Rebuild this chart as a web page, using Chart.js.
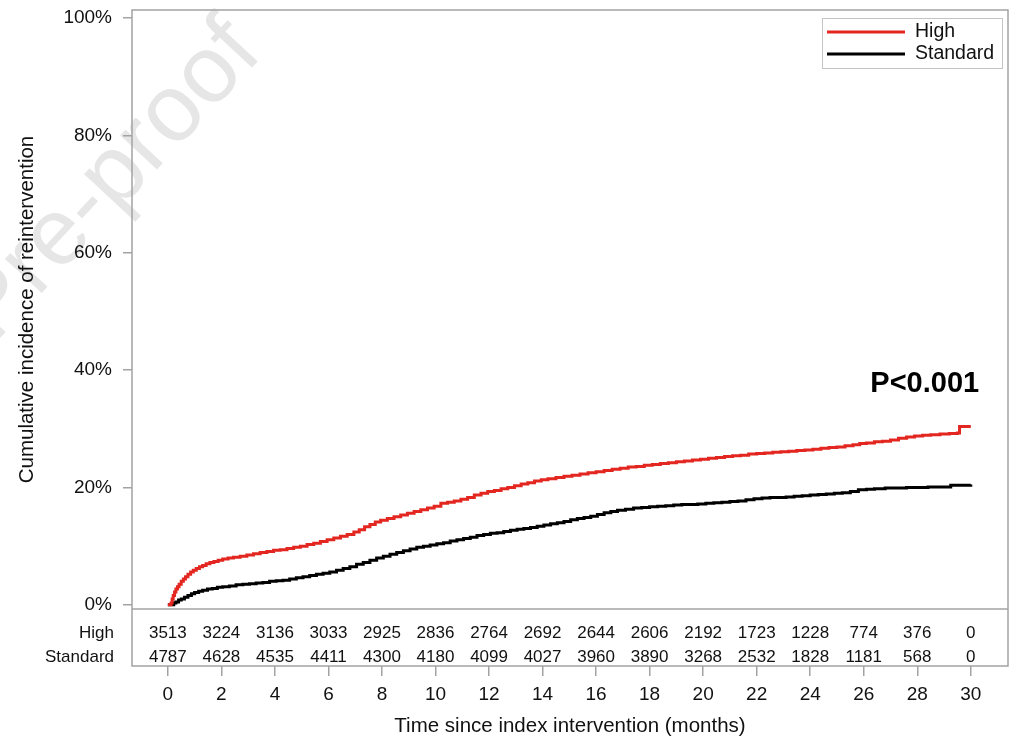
<!DOCTYPE html>
<html>
<head>
<meta charset="utf-8">
<title>Cumulative incidence of reintervention</title>
<script src="https://cdn.jsdelivr.net/npm/chart.js@4.4.1/dist/chart.umd.min.js"></script>
<style>
  html, body { margin: 0; padding: 0; background: #fff; }
  #wrap { width: 1012px; height: 743px; }
</style>
</head>
<body>
<div id="wrap"><canvas id="out" width="1012" height="743"></canvas></div>
<script>
// tick labels
const monthTicks = [0, 2, 4, 6, 8, 10, 12, 14, 16, 18, 20, 22, 24, 26, 28, 30];
const percentTicks = [0, 20, 40, 60, 80, 100];

// numbers at risk
const riskHigh = [3513, 3224, 3136, 3033, 2925, 2836, 2764, 2692, 2644, 2606, 2192, 1723, 1228, 774, 376, 0];
const riskStandard = [4787, 4628, 4535, 4411, 4300, 4180, 4099, 4027, 3960, 3890, 3268, 2532, 1828, 1181, 568, 0];

// cumulative incidence (%)
const highMonths = [0, 0.12, 0.16, 0.20, 0.25, 0.30, 0.36, 0.42, 0.50, 0.58, 0.66, 0.75, 0.85, 0.95, 1.06, 1.18,
  1.30, 1.43, 1.57, 1.72, 1.88, 2.05, 2.25, 2.45, 2.70, 2.95, 3.20, 3.45, 3.70, 3.95, 4.20, 4.45, 4.70, 4.95,
  5.20, 5.45, 5.70, 5.95, 6.20, 6.45, 6.70, 6.95, 7.15, 7.35, 7.55, 7.75, 7.95, 8.20, 8.45, 8.70, 8.95, 9.20,
  9.45, 9.70, 9.95, 10.20, 10.45, 10.70, 10.95, 11.20, 11.45, 11.70, 11.95, 12.20, 12.45, 12.70, 12.95, 13.20,
  13.45, 13.70, 13.95, 14.20, 14.50, 14.80, 15.10, 15.40, 15.70, 16.00, 16.30, 16.60, 16.90, 17.20, 17.50,
  17.80, 18.10, 18.40, 18.70, 19.00, 19.30, 19.60, 19.90, 20.20, 20.50, 20.80, 21.10, 21.40, 21.70, 22.00,
  22.30, 22.60, 22.90, 23.20, 23.50, 23.80, 24.10, 24.40, 24.70, 25.00, 25.30, 25.60, 25.85, 26.10, 26.40,
  26.70, 27.00, 27.30, 27.60, 27.90, 28.20, 28.50, 28.85, 29.20, 29.50, 29.58, 30.00];
const highIncidence = [0, 0.3, 1.0, 1.6, 2.2, 2.7, 3.1, 3.5, 4.0, 4.4, 4.8, 5.2, 5.6, 5.9, 6.2, 6.5,
  6.7, 7.0, 7.2, 7.4, 7.6, 7.8, 8.0, 8.1, 8.3, 8.5, 8.7, 8.9, 9.1, 9.3, 9.4, 9.6, 9.8, 10.0,
  10.3, 10.5, 10.8, 11.1, 11.4, 11.7, 12.0, 12.4, 12.8, 13.3, 13.7, 14.1, 14.4, 14.7, 15.0, 15.3, 15.6, 15.9,
  16.2, 16.5, 16.8, 17.3, 17.5, 17.7, 18.0, 18.3, 18.7, 19.0, 19.3, 19.5, 19.8, 20.0, 20.3, 20.6,
  20.8, 21.1, 21.3, 21.5, 21.7, 21.9, 22.1, 22.3, 22.5, 22.7, 22.9, 23.1, 23.3, 23.5, 23.6,
  23.8, 23.9, 24.1, 24.2, 24.4, 24.5, 24.7, 24.8, 25.0, 25.1, 25.3, 25.4, 25.5, 25.7, 25.8,
  25.9, 26.0, 26.1, 26.2, 26.3, 26.4, 26.5, 26.7, 26.8, 26.9, 27.1, 27.3, 27.5, 27.6, 27.8,
  27.9, 28.1, 28.4, 28.6, 28.8, 28.9, 29.0, 29.1, 29.2, 29.3, 30.4, 30.4];

const standardMonths = [0, 0.15, 0.22, 0.30, 0.40, 0.50, 0.62, 0.75, 0.88, 1.00, 1.15, 1.30, 1.48, 1.66, 1.85,
  2.05, 2.30, 2.55, 2.80, 3.05, 3.30, 3.55, 3.80, 4.05, 4.30, 4.55, 4.80, 5.05, 5.30, 5.55, 5.80, 6.05, 6.30,
  6.55, 6.80, 7.05, 7.30, 7.55, 7.80, 8.05, 8.30, 8.55, 8.80, 9.05, 9.30, 9.55, 9.80, 10.05, 10.30, 10.55,
  10.80, 11.05, 11.30, 11.55, 11.80, 12.05, 12.30, 12.55, 12.80, 13.05, 13.30, 13.55, 13.80, 14.05, 14.30,
  14.55, 14.80, 15.05, 15.30, 15.55, 15.80, 16.05, 16.30, 16.55, 16.80, 17.10, 17.40, 17.70, 18.00, 18.30,
  18.60, 18.90, 19.20, 19.50, 19.80, 20.10, 20.40, 20.70, 21.00, 21.30, 21.60, 21.90, 22.20, 22.50, 22.80,
  23.10, 23.40, 23.70, 24.00, 24.30, 24.60, 24.90, 25.20, 25.50, 25.80, 26.10, 26.40, 26.80, 27.20, 27.60,
  28.00, 28.40, 28.80, 29.25, 30.00];
const standardIncidence = [0, 0, 0.3, 0.5, 0.8, 1.0, 1.3, 1.6, 1.9, 2.1, 2.3, 2.5, 2.7, 2.8, 3.0,
  3.1, 3.2, 3.4, 3.5, 3.6, 3.7, 3.8, 4.0, 4.1, 4.2, 4.4, 4.6, 4.8, 5.0, 5.2, 5.4, 5.6, 5.9,
  6.2, 6.5, 6.9, 7.2, 7.6, 8.0, 8.3, 8.6, 8.9, 9.2, 9.5, 9.8, 10.0, 10.2, 10.4, 10.6, 10.9,
  11.1, 11.3, 11.5, 11.8, 12.0, 12.2, 12.3, 12.5, 12.7, 12.9, 13.0, 13.2, 13.4, 13.6, 13.8,
  14.0, 14.2, 14.5, 14.7, 14.9, 15.1, 15.4, 15.7, 15.9, 16.1, 16.3, 16.5, 16.6, 16.7, 16.8,
  16.9, 17.0, 17.1, 17.1, 17.2, 17.3, 17.4, 17.5, 17.6, 17.7, 17.9, 18.1, 18.2, 18.3, 18.3,
  18.4, 18.5, 18.6, 18.7, 18.8, 18.9, 19.0, 19.1, 19.3, 19.6, 19.7, 19.8, 19.9, 19.9, 20.0,
  20.0, 20.1, 20.1, 20.4, 20.5];

const pValueText = "P<0.001";
const groupNames = ["High", "Standard"];
const groupColors = ["#e3261f", "#000000"];

const fontFamily = '"Liberation Sans", Arial, sans-serif';
const frameColor = "#a3a3a3";

function toPoints(xs, ys) {
	const pts = [];
	for (let i = 0; i < xs.length; i++) {
		pts.push({ x: xs[i], y: ys[i] });
	}
	return pts;
}

const kmPlugin = {
	id: "kmExtras",
	beforeDraw(chart) {
		const ctx = chart.ctx;
		ctx.save();
		ctx.fillStyle = "#fff";
		ctx.fillRect(0, 0, chart.width, chart.height);
		// faint watermark
		ctx.font = "95px " + fontFamily;
		ctx.fillStyle = "#e6e6e6";
		ctx.translate(87, 207);
		ctx.rotate(-47 * Math.PI / 180);
		const w1 = ctx.measureText("Journal Pre").width;
		const wh = ctx.measureText("-").width;
		ctx.textBaseline = "alphabetic";
		ctx.fillText("Journal Pre-proof", -(w1 + wh / 2), 0.27 * 95);
		ctx.restore();
	},
	afterDraw(chart) {
		const ctx = chart.ctx;
		const area = chart.chartArea;
		const xs = chart.scales.x;
		const ys = chart.scales.y;
		ctx.save();

		// frame and risk table separator
		ctx.strokeStyle = frameColor;
		ctx.lineWidth = 1.5;
		ctx.strokeRect(area.left, area.top, area.right - area.left, area.bottom - area.top);
		const sepY = ys.getPixelForValue(-0.72);
		ctx.beginPath();
		ctx.moveTo(area.left, sepY);
		ctx.lineTo(area.right, sepY);
		ctx.stroke();

		// numbers at risk
		const rowY = [ys.getPixelForValue(-4.81), ys.getPixelForValue(-8.9)];
		const rows = [riskHigh, riskStandard];
		ctx.fillStyle = "#111";
		ctx.textBaseline = "middle";
		ctx.font = "17px " + fontFamily;
		ctx.textAlign = "center";
		for (let r = 0; r < rows.length; r++) {
			for (let i = 0; i < monthTicks.length; i++) {
				ctx.fillText(String(rows[r][i]), xs.getPixelForValue(monthTicks[i]), rowY[r]);
			}
		}
		ctx.textAlign = "right";
		for (let r = 0; r < groupNames.length; r++) {
			ctx.fillText(groupNames[r], area.left - 18, rowY[r]);
		}

		// y axis title, centred on the curve panel
		ctx.save();
		ctx.translate(27, (area.top + sepY) / 2);
		ctx.rotate(-Math.PI / 2);
		ctx.textAlign = "center";
		ctx.font = "20.5px " + fontFamily;
		ctx.fillText("Cumulative incidence of reintervention", 0, 0);
		ctx.restore();

		// p value
		ctx.font = "bold 29px " + fontFamily;
		ctx.textAlign = "center";
		ctx.textBaseline = "alphabetic";
		ctx.fillStyle = "#000";
		ctx.fillText(pValueText, xs.getPixelForValue(28.28), ys.getPixelForValue(36.3));

		// legend box
		const lx = area.right - 186, ly = area.top + 8, lw = 180, lh = 50;
		ctx.strokeStyle = "#c4c4c4";
		ctx.lineWidth = 1;
		ctx.strokeRect(lx + 0.5, ly + 0.5, lw, lh);
		ctx.font = "19.5px " + fontFamily;
		ctx.textAlign = "left";
		ctx.textBaseline = "middle";
		for (let i = 0; i < groupNames.length; i++) {
			const yy = ly + 14 + i * 22;
			ctx.strokeStyle = groupColors[i];
			ctx.lineWidth = 3;
			ctx.beginPath();
			ctx.moveTo(lx + 5, yy);
			ctx.lineTo(lx + 83, yy);
			ctx.stroke();
			ctx.fillStyle = "#111";
			ctx.fillText(groupNames[i], lx + 93, yy);
		}
		ctx.restore();
	}
};

const canvasCtx = document.getElementById("out").getContext("2d");

const chartConfig = {
	type: "line",
	data: {
		datasets: [
			{
				label: groupNames[0],
				data: toPoints(highMonths, highIncidence),
				borderColor: groupColors[0],
				borderWidth: 3,
				stepped: true,
				pointRadius: 0,
				fill: false
			}, {
				label: groupNames[1],
				data: toPoints(standardMonths, standardIncidence),
				borderColor: groupColors[1],
				borderWidth: 3,
				stepped: true,
				pointRadius: 0,
				fill: false
			}
		]
	},
	options: {
		responsive: false,
		animation: false,
		layout: { padding: { top: 10, right: 4, left: 0, bottom: 0 } },
		plugins: {
			legend: { display: false },
			tooltip: { enabled: false }
		},
		scales: {
			x: {
				type: "linear",
				min: -1.34,
				max: 31.39,
				afterBuildTicks: (scale) => { scale.ticks = monthTicks.map(v => ({ value: v })); },
				afterFit: (scale) => {
					scale.height = 77;
					scale.paddingLeft = 0;
					scale.paddingRight = 0;
				},
				grid: { display: true, drawOnChartArea: false, tickLength: 10, color: frameColor, lineWidth: 1.5 },
				border: { display: false },
				ticks: {
					font: { family: fontFamily, size: 19 },
					color: "#111",
					padding: 7,
					maxRotation: 0,
					autoSkip: false
				},
				title: {
					display: true,
					text: "Time since index intervention (months)",
					font: { family: fontFamily, size: 20.5 },
					color: "#111",
					padding: { top: 0, bottom: 4 }
				}
			},
			y: {
				min: -10.43,
				max: 101.4,
				afterBuildTicks: (scale) => { scale.ticks = percentTicks.map(v => ({ value: v })); },
				afterFit: (scale) => {
					scale.width = 132;
					scale.paddingTop = 0;
					scale.paddingBottom = 0;
				},
				grid: { display: true, drawOnChartArea: false, tickLength: 9, color: frameColor, lineWidth: 1.5 },
				border: { display: false },
				ticks: {
					font: { family: fontFamily, size: 19 },
					color: "#111",
					padding: 11,
					callback: (v) => v + "%"
				}
			}
		}
	},
	plugins: [kmPlugin]
};

window.chart = new Chart(canvasCtx, chartConfig);
</script>
</body>
</html>
